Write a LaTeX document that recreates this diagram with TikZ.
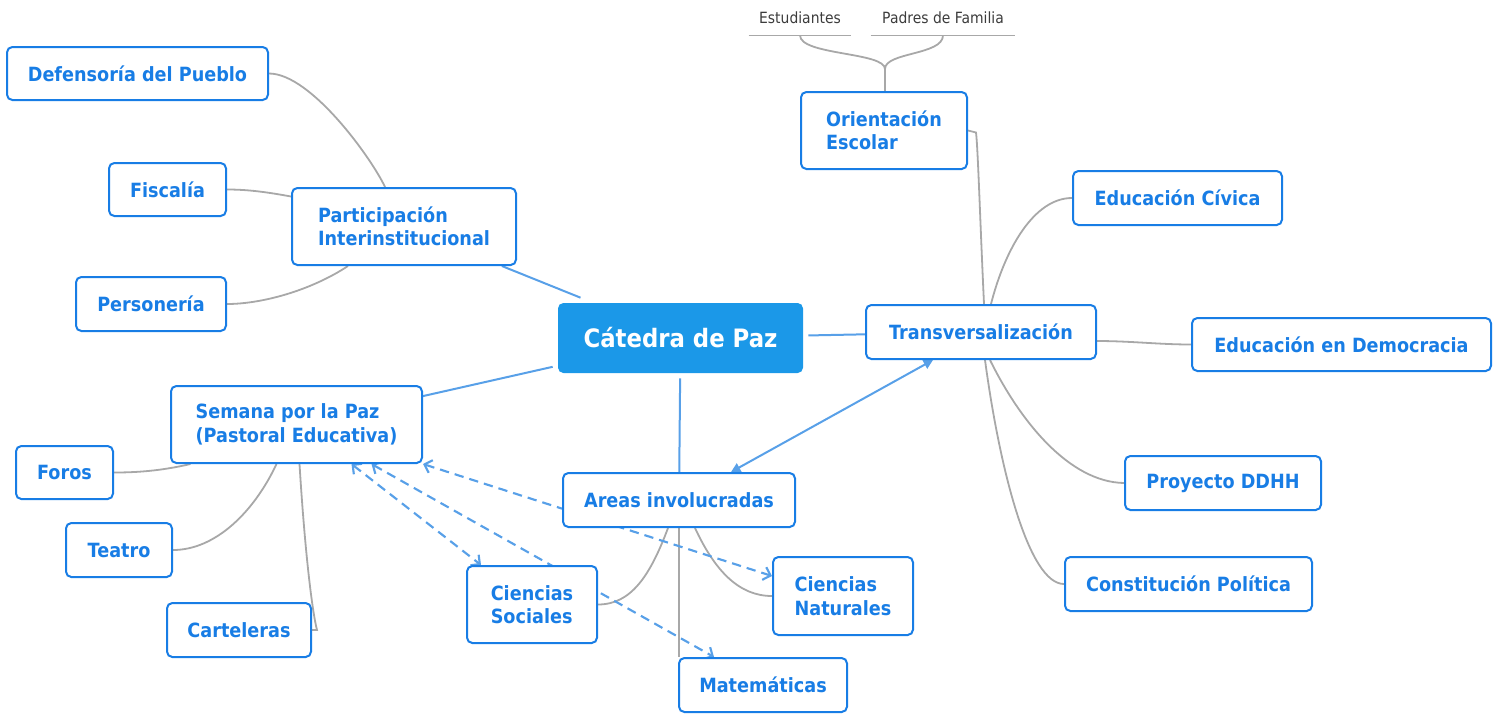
\documentclass[tikz,border=0pt]{standalone}
\usepackage{fontspec}
\setmainfont{DejaVu Sans}[FakeStretch=0.9]
\usetikzlibrary{arrows.meta,calc,backgrounds}

\definecolor{topicblue}{RGB}{24,125,229}
\definecolor{corefill}{RGB}{27,152,232}
\definecolor{linkblue}{RGB}{88,160,232}
\definecolor{branchgray}{RGB}{168,168,168}
\definecolor{labelgray}{RGB}{60,60,60}

\tikzset{
	boxsize/.style 2 args={minimum width=#1*0.75pt, minimum height=#2*0.75pt},
	topic/.style={draw=topicblue, line width=1.5pt, rounded corners=4pt, fill=white, text=topicblue, inner sep=0pt, align=left, font=\fontsize{14.7}{17.6}\selectfont\bfseries},
	core/.style={fill=corefill, rounded corners=4pt, text=white, inner sep=0pt, outer sep=4pt, font=\fontsize{19}{22}\selectfont\bfseries},
	note/.style={inner sep=0pt, text=labelgray, font=\fontsize{11.6}{14}\selectfont},
	branch/.style={draw=branchgray, line width=1.35pt},
	mainlink/.style={draw=linkblue, line width=1.5pt},
	crosslink/.style={draw=linkblue, line width=1.5pt, {Triangle[length=7pt,width=7pt]}-{Triangle[length=7pt,width=7pt]}},
	relation/.style={draw=linkblue, line width=1.6pt, dash pattern=on 7pt off 4.5pt, {Straight Barb[length=5pt,width=10pt]}-{Straight Barb[length=5pt,width=10pt]}},
}

\begin{document}
\begin{tikzpicture}[x=0.75pt,y=0.75pt,yscale=-1,xscale=1]
	\useasboundingbox (0,0) rectangle (1502,719);

	% Central topic
	\node[core, boxsize={245}{70}] (catedra) at (680.5,338) {Cátedra de Paz};

	% Main topics
	\node[topic, boxsize={224}{77}] (participacion) at (404,226.5) {Participación\\Interinstitucional};
	\node[topic, boxsize={251}{77}] (semana) at (296.5,424.5) {Semana por la Paz\\(Pastoral Educativa)};
	\node[topic, boxsize={232}{54}] (areas) at (679,500) {Areas involucradas};
	\node[topic, boxsize={230}{54}] (transversal) at (981,332) {Transversalización};

	% Subtopics
	\node[topic, boxsize={261}{53}] (defensoria) at (137.5,73.5) {Defensoría del Pueblo};
	\node[topic, boxsize={117}{53}] (fiscalia) at (167.5,189.5) {Fiscalía};
	\node[topic, boxsize={150}{54}] (personeria) at (151,304) {Personería};
	\node[topic, boxsize={97}{53}] (foros) at (64.5,472.5) {Foros};
	\node[topic, boxsize={106}{54}] (teatro) at (119,550) {Teatro};
	\node[topic, boxsize={144}{54}] (carteleras) at (239,630) {Carteleras};
	\node[topic, boxsize={130}{77}] (csociales) at (532,604.5) {Ciencias\\Sociales};
	\node[topic, boxsize={140}{78}] (cnaturales) at (843,596) {Ciencias\\Naturales};
	\node[topic, boxsize={168}{54}] (matematicas) at (763,685) {Matemáticas};
	\node[topic, boxsize={166}{77}] (orientacion) at (884,130.5) {Orientación\\Escolar};
	\node[topic, boxsize={209}{54}] (civica) at (1177.5,198) {Educación Cívica};
	\node[topic, boxsize={299}{53}] (democracia) at (1341.5,344.5) {Educación en Democracia};
	\node[topic, boxsize={196}{54}] (ddhh) at (1223,483) {Proyecto DDHH};
	\node[topic, boxsize={247}{54}] (constitucion) at (1188.5,584) {Constitución Política};

	% Text Node
	\node[note, boxsize={102}{35}] (estudiantes) at (800,17.5) {Estudiantes};
	% Text Node
	\node[note, boxsize={144}{35}] (padres) at (943,17.5) {Padres de Familia};
	\draw[branchgray, line width=0.8pt] (estudiantes.south west) -- (estudiantes.south east);
	\draw[branchgray, line width=0.8pt] (padres.south west) -- (padres.south east);

	\begin{scope}[on background layer]
	%Straight Lines from the central topic
	\draw[mainlink] (catedra) -- (participacion);
	\draw[mainlink] (catedra) -- (semana);
	\draw[mainlink] (catedra) -- (areas);
	\draw[mainlink] (catedra) -- (transversal);

	%Curves: Participacion
	\draw[branch] ($(participacion.north)+(-19,0)$) .. controls +(-13,-28) and +(42,0) .. (defensoria.east);
	\draw[branch] ($(participacion.west)+(0,-30)$) .. controls +(-27,-5) and +(19,0) .. (fiscalia.east);
	\draw[branch] ($(participacion.south)+(-56,0)$) .. controls +(-38,25) and +(34,0) .. (personeria.east);

	%Curves: Semana
	\draw[branch] ($(semana.south)+(-106,0)$) .. controls +(-30,7) and +(22,0) .. (foros.east);
	\draw[branch] ($(semana.south)+(-20,0)$) .. controls +(-22,47) and +(43,0) .. (teatro.east);
	\draw[branch] ($(semana.south)+(3,0)$) .. controls +(6,97) and +(-4,-15) .. ($(carteleras.east)+(5,0)$) -- (carteleras.east);

	%Curves: Areas
	\draw[branch] ($(areas.south)+(-11,0)$) .. controls +(-18,48) and +(33,0) .. (csociales.east);
	\draw[branch] (areas.south) -- (areas.south |- matematicas.north);
	\draw[branch] ($(areas.south)+(16,0)$) .. controls +(20,43) and +(-33,0) .. (cnaturales.west);

	%Curves: Transversalizacion
	\draw[branch] ($(transversal.north)+(3,0)$) .. controls +(-4,-85) and +(2,17) .. ($(orientacion.east)+(8,2)$) -- (orientacion.east);
	\draw[branch] ($(transversal.north)+(10,0)$) .. controls +(14,-55) and +(-38,0) .. (civica.west);
	\draw[branch] ($(transversal.east)+(0,9)$) .. controls +(34,0) and +(-32,0) .. (democracia.west);
	\draw[branch] ($(transversal.south)+(9,0)$) .. controls +(30,61) and +(-55,-1) .. (ddhh.west);
	\draw[branch] ($(transversal.south)+(4,0)$) .. controls +(15,111) and +(-35,0) .. (constitucion.west);

	%Curves: Orientacion
	\draw[branch] ($(orientacion.north)+(1,0)$) -- ++(0,-22) coordinate (fork);
	\draw[branch] (fork) .. controls +(0,-17) and +(0,20) .. (estudiantes.south);
	\draw[branch] (fork) .. controls +(0,-17) and +(0,20) .. (padres.south);

	%Arrows
	\draw[crosslink] ($(transversal.south)+(-48,0)$) -- ($(areas.north)+(52,0)$);
	\draw[relation] (semana.south east) -- ($(cnaturales.west)+(0,-20)$);
	\draw[relation] ($(semana.south)+(75,0)$) -- ($(matematicas.north west)+(36,0)$);
	\draw[relation] ($(semana.south)+(55,0)$) -- ($(csociales.north west)+(15,0)$);
	\end{scope}

\end{tikzpicture}
\end{document}
